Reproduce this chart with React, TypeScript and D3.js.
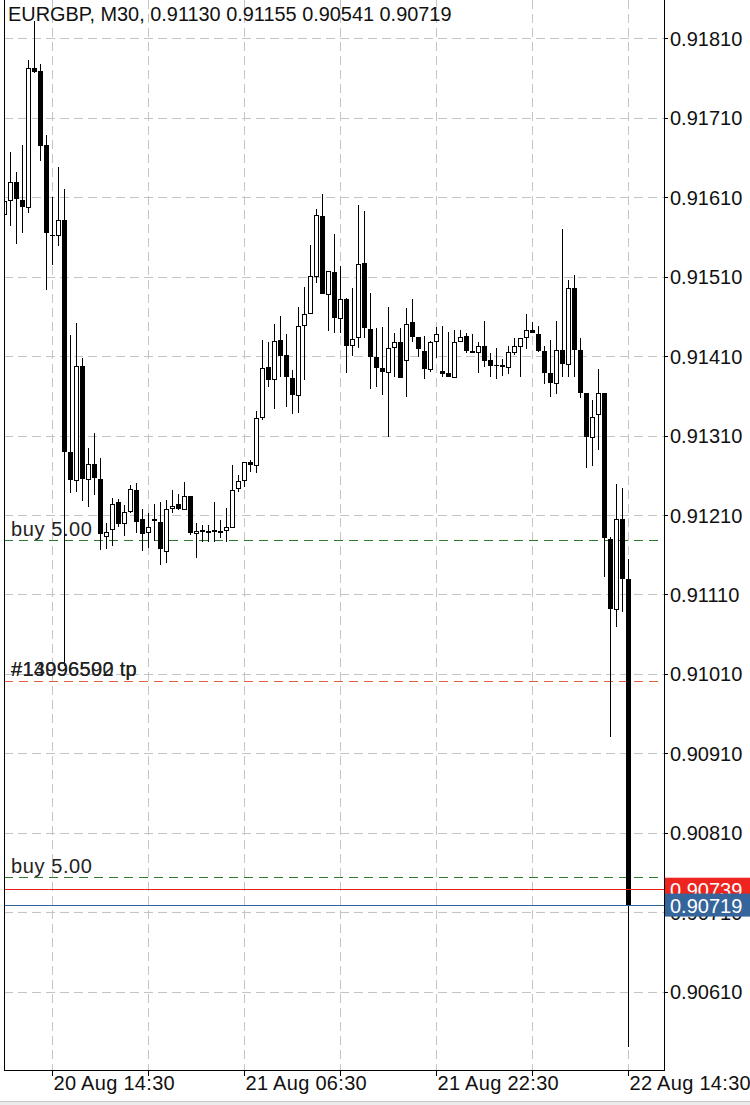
import React from "react";
import * as d3 from "d3";

// EURGBP M30 candles, oldest first
const symbolTitle = "EURGBP, M30, 0.91130 0.91155 0.90541 0.90719";
const firstBarTime = "2019-08-20 10:30";
const barMinutes = 30;

const opens = [
  0.91589, 0.91606, 0.91629, 0.91606, 0.91598, 0.91773, 0.91769, 0.91676, 0.91562, 0.91562,
  0.91581, 0.91289, 0.91254, 0.91398, 0.91255, 0.91274, 0.91255, 0.91184, 0.91192, 0.91226,
  0.91200, 0.91215, 0.91241, 0.91205, 0.91189, 0.91205, 0.91201, 0.91165, 0.91219, 0.91224,
  0.91218, 0.91234, 0.91187, 0.91191, 0.91190, 0.91191, 0.91190, 0.91191, 0.91195, 0.91244,
  0.91254, 0.91277, 0.91273, 0.91333, 0.91396, 0.91381, 0.91430, 0.91411, 0.91382, 0.91361,
  0.91449, 0.91464, 0.91511, 0.91586, 0.91488, 0.91516, 0.91458, 0.91482, 0.91424, 0.91434,
  0.91527, 0.91444, 0.91409, 0.91395, 0.91390, 0.91421, 0.91428, 0.91405, 0.91453, 0.91434,
  0.91416, 0.91394, 0.91429, 0.91391, 0.91389, 0.91384, 0.91429, 0.91435, 0.91416, 0.91415,
  0.91423, 0.91405, 0.91399, 0.91399, 0.91396, 0.91415, 0.91423, 0.91434, 0.91443, 0.91438,
  0.91416, 0.91389, 0.91376, 0.91418, 0.91400, 0.91496, 0.91418, 0.91364, 0.91308, 0.91337,
  0.91364, 0.91180, 0.91092, 0.91205, 0.91130,
];
const highs = [
  0.91611, 0.91667, 0.91642, 0.91676, 0.91783, 0.91832, 0.91778, 0.91688, 0.91610, 0.91648,
  0.91620, 0.91437, 0.91452, 0.91408, 0.91294, 0.91313, 0.91282, 0.91200, 0.91231, 0.91230,
  0.91223, 0.91248, 0.91250, 0.91218, 0.91212, 0.91224, 0.91226, 0.91229, 0.91241, 0.91236,
  0.91252, 0.91234, 0.91200, 0.91197, 0.91197, 0.91226, 0.91204, 0.91219, 0.91273, 0.91260,
  0.91277, 0.91279, 0.91341, 0.91430, 0.91428, 0.91450, 0.91460, 0.91438, 0.91392, 0.91472,
  0.91497, 0.91550, 0.91595, 0.91614, 0.91517, 0.91564, 0.91523, 0.91483, 0.91496, 0.91600,
  0.91593, 0.91489, 0.91445, 0.91447, 0.91472, 0.91439, 0.91445, 0.91471, 0.91482, 0.91434,
  0.91435, 0.91429, 0.91447, 0.91448, 0.91440, 0.91443, 0.91443, 0.91439, 0.91438, 0.91428,
  0.91454, 0.91414, 0.91420, 0.91406, 0.91423, 0.91433, 0.91433, 0.91463, 0.91453, 0.91448,
  0.91423, 0.91430, 0.91454, 0.91570, 0.91506, 0.91512, 0.91433, 0.91364, 0.91355, 0.91394,
  0.91364, 0.91182, 0.91249, 0.91244, 0.91155,
];
const lows = [
  0.91584, 0.91574, 0.91551, 0.91565, 0.91590, 0.91766, 0.91656, 0.91493, 0.91525, 0.91549,
  0.91020, 0.91238, 0.91239, 0.91228, 0.91220, 0.91235, 0.91166, 0.91167, 0.91171, 0.91195,
  0.91184, 0.91212, 0.91187, 0.91165, 0.91168, 0.91177, 0.91147, 0.91150, 0.91212, 0.91216,
  0.91216, 0.91185, 0.91156, 0.91176, 0.91176, 0.91176, 0.91181, 0.91176, 0.91195, 0.91239,
  0.91245, 0.91264, 0.91263, 0.91330, 0.91371, 0.91343, 0.91384, 0.91346, 0.91337, 0.91338,
  0.91380, 0.91464, 0.91502, 0.91488, 0.91442, 0.91439, 0.91439, 0.91389, 0.91410, 0.91420,
  0.91433, 0.91369, 0.91371, 0.91361, 0.91308, 0.91384, 0.91382, 0.91359, 0.91428, 0.91409,
  0.91381, 0.91390, 0.91408, 0.91384, 0.91384, 0.91384, 0.91428, 0.91414, 0.91414, 0.91389,
  0.91396, 0.91384, 0.91381, 0.91385, 0.91387, 0.91411, 0.91384, 0.91419, 0.91439, 0.91415,
  0.91375, 0.91359, 0.91362, 0.91384, 0.91384, 0.91384, 0.91357, 0.91269, 0.91272, 0.91292,
  0.91132, 0.90931, 0.91069, 0.91088, 0.90541,
];
const closes = [
  0.91605, 0.91629, 0.91608, 0.91598, 0.91773, 0.91768, 0.91674, 0.91565, 0.91561, 0.91581,
  0.91289, 0.91254, 0.91398, 0.91255, 0.91274, 0.91257, 0.91186, 0.91189, 0.91224, 0.91199,
  0.91214, 0.91243, 0.91201, 0.91186, 0.91195, 0.91202, 0.91167, 0.91218, 0.91221, 0.91218,
  0.91234, 0.91187, 0.91190, 0.91189, 0.91190, 0.91189, 0.91187, 0.91195, 0.91241, 0.91253,
  0.91277, 0.91273, 0.91332, 0.91395, 0.91380, 0.91429, 0.91410, 0.91384, 0.91361, 0.91448,
  0.91463, 0.91511, 0.91588, 0.91488, 0.91517, 0.91458, 0.91482, 0.91423, 0.91432, 0.91526,
  0.91445, 0.91409, 0.91395, 0.91390, 0.91420, 0.91428, 0.91382, 0.91450, 0.91434, 0.91419,
  0.91394, 0.91428, 0.91438, 0.91387, 0.91384, 0.91428, 0.91434, 0.91416, 0.91414, 0.91423,
  0.91404, 0.91398, 0.91398, 0.91396, 0.91415, 0.91423, 0.91433, 0.91443, 0.91439, 0.91416,
  0.91389, 0.91376, 0.91418, 0.91400, 0.91496, 0.91418, 0.91364, 0.91308, 0.91333, 0.91364,
  0.91181, 0.91092, 0.91205, 0.91130, 0.90719,
];

// Axis ticks
const priceTicks = [
  0.9181, 0.9171, 0.9161, 0.9151, 0.9141, 0.9131, 0.9121, 0.9111, 0.9101, 0.9091, 0.9081,
  0.9071, 0.9061,
];
const gridTimeLabels = [
  "20 Aug 14:30", "20 Aug 22:30", "21 Aug 06:30", "21 Aug 14:30",
  "21 Aug 22:30", "22 Aug 06:30", "22 Aug 14:30",
];
const timeTickLabels = ["20 Aug 14:30", "21 Aug 06:30", "21 Aug 22:30", "22 Aug 14:30"];

// Trade levels
const buyLevels = [0.91178, 0.90754];
const buyLabels = ["buy 5.00", "buy 5.00"];
const tpLevel = 0.91001;
const tpLabels = ["#14096590 tp", "#13996502 tp"];
const askPrice = 0.90739;
const bidPrice = 0.90719;

const W = 750;
const H = 1105;
const left = 4;
const right = 664;
const bottom = 1070;
const FONT = "'Liberation Sans', Arial, Helvetica, sans-serif";

export default function App() {
  const parse = d3.timeParse("%Y-%m-%d %H:%M");
  const fmt = d3.timeFormat("%d %b %H:%M");
  const start = parse(firstBarTime) as Date;
  const bars = opens.map((o, i) => ({
    i,
    t: fmt(d3.timeMinute.offset(start, barMinutes * i)),
    o,
    h: highs[i],
    l: lows[i],
    c: closes[i],
  }));
  const indexOf = (label: string) => bars.findIndex((b) => b.t === label);

  const x = d3.scaleLinear().domain([0, bars.length - 1]).range([4.5, 628.5]);
  const y = d3.scaleLinear().domain([0.9181, 0.9061]).range([38.3, 991.7]);
  const crisp = (v: number) => Math.round(v) + 0.5;

  const gridXs = gridTimeLabels.map((s) => x(indexOf(s)));
  const fmtPrice = d3.format(".5f");

  return (
    <svg
      width={W}
      height={H}
      style={{ position: "absolute", left: 0, top: 0, background: "#fff" }}
      fontFamily={FONT}
    >
      <defs>
        <clipPath id="plot">
          <rect x={left} y={0} width={right - left} height={bottom} />
        </clipPath>
      </defs>
      <rect x={0} y={0} width={W} height={H} fill="#fff" />

      {/* grid */}
      <g stroke="#c4c4c4" strokeWidth={1} strokeDasharray="9,5">
        {priceTicks.map((p) => (
          <line key={"h" + p} x1={left} x2={right} y1={crisp(y(p))} y2={crisp(y(p))} />
        ))}
        {gridXs.map((gx, k) => (
          <line key={"v" + k} x1={gx} x2={gx} y1={0} y2={bottom} />
        ))}
      </g>

      {/* order levels */}
      <g clipPath="url(#plot)">
        {buyLevels.map((p, k) => (
          <line
            key={"b" + k}
            x1={left}
            x2={right}
            y1={crisp(y(p))}
            y2={crisp(y(p))}
            stroke="#2f7a2f"
            strokeDasharray="9,6"
          />
        ))}
        <line
          x1={left}
          x2={right}
          y1={crisp(y(tpLevel))}
          y2={crisp(y(tpLevel))}
          stroke="#e0603f"
          strokeDasharray="9,6"
        />
      </g>

      {/* candles */}
      <g clipPath="url(#plot)">
        {bars.map((b) => {
          const cx = x(b.i);
          const yTop = Math.round(y(Math.max(b.o, b.c)));
          const yBot = Math.round(y(Math.min(b.o, b.c)));
          const up = b.c >= b.o;
          return (
            <g key={b.i}>
              <line
                x1={cx}
                x2={cx}
                y1={Math.round(y(b.h))}
                y2={Math.round(y(b.l))}
                stroke="#000"
                strokeWidth={1}
              />
              {up ? (
                <rect
                  x={cx - 2}
                  y={yTop + 0.5}
                  width={4}
                  height={Math.max(1, yBot - yTop)}
                  fill="#fff"
                  stroke="#000"
                  strokeWidth={1}
                />
              ) : (
                <rect
                  x={cx - 2.5}
                  y={yTop}
                  width={5}
                  height={Math.max(1, yBot - yTop)}
                  fill="#000"
                />
              )}
            </g>
          );
        })}
      </g>

      {/* bid / ask lines */}
      <line x1={left} x2={right} y1={crisp(y(askPrice))} y2={crisp(y(askPrice))} stroke="#e81e1a" />
      <line x1={left} x2={right} y1={crisp(y(bidPrice))} y2={crisp(y(bidPrice))} stroke="#2f639a" />

      {/* level labels */}
      <g fontSize={20} fill="#222" letterSpacing={0.6}>
        {buyLevels.map((p, k) => (
          <text key={"bl" + k} x={11} y={y(p) - 4}>
            {buyLabels[k]}
          </text>
        ))}
        {tpLabels.map((s, k) => (
          <text key={"tl" + k} x={11} y={y(tpLevel) - 5} letterSpacing={0.3}>
            {s}
          </text>
        ))}
      </g>

      {/* frame */}
      <g stroke="#000" strokeWidth={1} fill="none">
        <line x1={left + 0.5} x2={left + 0.5} y1={0} y2={bottom} />
        <line x1={right + 0.5} x2={right + 0.5} y1={0} y2={bottom + 0.5} />
        <line x1={left} x2={right + 1} y1={bottom + 0.5} y2={bottom + 0.5} />
      </g>

      {/* price axis */}
      <g fontSize={20} fill="#111">
        {priceTicks.map((p) => (
          <g key={"pt" + p}>
            <line x1={right} x2={right + 4} y1={crisp(y(p))} y2={crisp(y(p))} stroke="#000" />
            <text x={670} y={y(p) + 7.5}>
              {fmtPrice(p)}
            </text>
          </g>
        ))}
      </g>

      {/* time axis */}
      <g fontSize={20} fill="#111" letterSpacing={0.3}>
        {gridXs.map((gx, k) => (
          <line key={"tt" + k} x1={gx} x2={gx} y1={bottom} y2={bottom + 6} stroke="#000" />
        ))}
        {timeTickLabels.map((s) => (
          <text key={s} x={x(indexOf(s)) + 1} y={1090}>
            {s}
          </text>
        ))}
      </g>

      {/* current price boxes */}
      {[
        { p: askPrice, fill: "#ee2420" },
        { p: bidPrice, fill: "#35659b" },
      ].map((d) => (
        <g key={"box" + d.p}>
          <rect x={right + 1} y={y(d.p) - 11.5} width={W - right - 1} height={23} fill={d.fill} />
          <text x={670} y={y(d.p) + 7.5} fontSize={20} fill="#fff">
            {fmtPrice(d.p)}
          </text>
        </g>
      ))}

      {/* title */}
      <text x={8} y={21} fontSize={19.9} fill="#111">
        {symbolTitle}
      </text>

      {/* bottom strip */}
      <rect x={0} y={1101} width={W} height={4} fill="#ececec" />
      <line x1={0} x2={W} y1={1101.5} y2={1101.5} stroke="#c6c6c6" />
    </svg>
  );
}
